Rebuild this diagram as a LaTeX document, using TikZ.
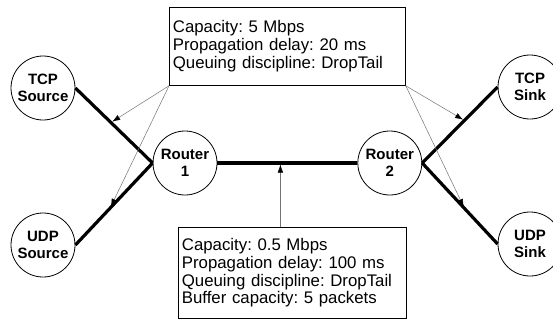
\documentclass[tikz,border=0pt]{standalone}
\usepackage{fontspec}
\setmainfont{Liberation Sans}
\usetikzlibrary{arrows.meta,positioning}

\begin{document}
\frenchspacing
\begin{tikzpicture}[
  x=1pt,y=-1pt,
  host/.style={draw,circle,line width=0.8pt,minimum size=64pt,inner sep=0pt,
    align=center,font=\fontsize{15}{17}\selectfont\bfseries},
  link/.style={line width=3.2pt},
  infobox/.style={draw,line width=0.8pt,anchor=north west,align=left,
    text width=#1,inner xsep=3.5pt,font=\fontsize{16.8}{17.8}\selectfont},
  pointer/.style={-{Latex[length=8pt,width=5.5pt,color=black]},black!55,
    line width=0.5pt,shorten >=1.5pt}
]
  \useasboundingbox (0,0) rectangle (553,322);

  % hosts and routers
  \node[host] (tcpsrc) at (43,88) {TCP\\Source};
  \node[host] (udpsrc) at (43,245) {UDP\\Source};
  \node[host] (r1) at (185,163) {Router\\1};
  \node[host,right=140pt of r1] (r2) {Router\\2};
  \node[host] (tcpsink) at (530,87) {TCP\\Sink};
  \node[host] (udpsink) at (530,244) {UDP\\Sink};

  % link parameters
  \node[infobox=229pt,minimum height=78pt] (fastbox) at (169,7)
    {Capacity: 5 Mbps\\Propagation delay: 20 ms\\Queuing discipline: DropTail};
  \node[infobox=221pt,minimum height=91pt] (slowbox) at (178,227)
    {Capacity: 0.5 Mbps\\Propagation delay: 100 ms\\Queuing discipline: DropTail\\
     Buffer capacity: 5 packets};

  % links
  \draw[link] (tcpsrc.east) -- coordinate[pos=0.46] (tcphit) (r1.west);
  \draw[link] (udpsrc.east) -- coordinate[pos=0.45] (udphit) (r1.west);
  \draw[link] (r1.east) -- coordinate[pos=0.45] (midhit) (r2.west);
  \draw[link] (r2.east) -- coordinate[pos=0.56] (tcpsinkhit) (tcpsink.west);
  \draw[link] (r2.east) -- coordinate[pos=0.56] (udpsinkhit) (udpsink.west);

  % which box describes which link
  \draw[pointer] (fastbox.south west) -- (tcphit);
  \draw[pointer] (fastbox.south west) -- (udphit);
  \draw[pointer] (fastbox.south east) -- (tcpsinkhit);
  \draw[pointer] (fastbox.south east) -- (udpsinkhit);
  \draw[pointer] (slowbox.north -| midhit) -- (midhit);
\end{tikzpicture}
\end{document}
